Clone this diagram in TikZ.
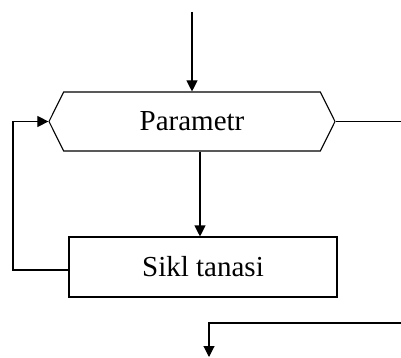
\documentclass[tikz,border=0pt]{standalone}
\usepackage{fontspec}
\setmainfont{Liberation Serif}
\usetikzlibrary{shapes.symbols,arrows.meta}

\tikzset{
  arr/.style={-{Triangle[length=11pt,width=11pt]}},
  hexbox/.style={draw, signal, signal to=west and east, signal pointer angle=127,
    minimum width=286pt, minimum height=59pt, inner sep=0pt},
  box/.style={draw, rectangle, minimum width=268pt, minimum height=60pt, inner sep=0pt}
}

\begin{document}
\begin{tikzpicture}[x=1pt,y=-1pt,line width=1.1pt,font=\fontsize{29}{34}\selectfont]
\useasboundingbox (0,0) rectangle (401,358);
\node[hexbox] (param) at (192,121.5) {Parametr};
\node[box] (sikl) at (203,267) {Sikl tanasi};
\coordinate (top) at (192,12);
\coordinate (out) at (401,121.5);
\coordinate (loop) at (13,270);
\coordinate (back) at (401,323);
\coordinate (down) at (209,357);
\draw[arr] (top) -- (param.north);
\draw (param.east) -- (out);
\draw[arr] ([xshift=8pt]param.south) -- ([xshift=-3pt]sikl.north);
\draw[arr] (sikl.west |- loop) -- (loop) |- (param.west);
\draw[arr] (back) -| (down);
\end{tikzpicture}
\end{document}
